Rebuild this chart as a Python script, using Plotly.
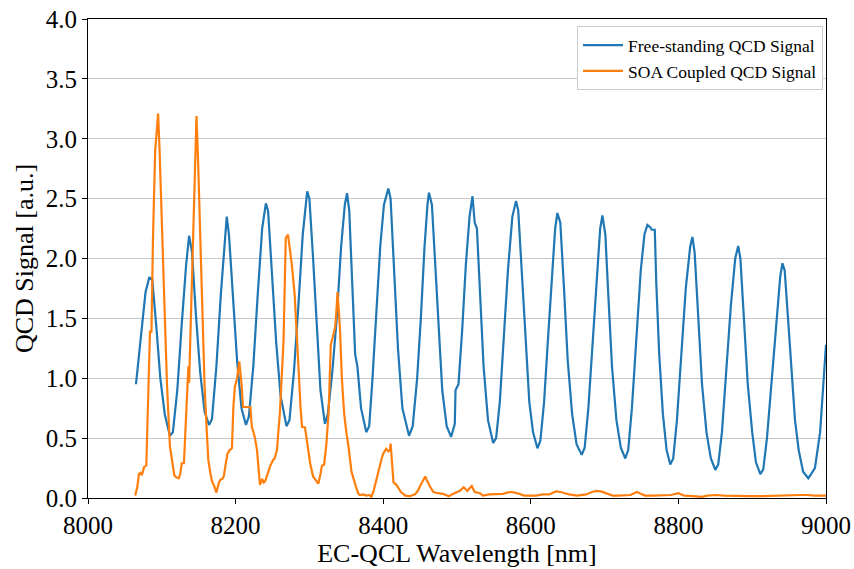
import plotly.graph_objects as go

# Free-standing QCD signal (blue)
blue_x = [8065, 8072, 8078, 8083, 8087, 8093, 8098, 8104, 8111, 8115, 8121, 8127, 8133, 8137, 8141, 8146,
          8152, 8158, 8164, 8168, 8174, 8180, 8185, 8188, 8191, 8196, 8202, 8208, 8214, 8218, 8224, 8230,
          8236, 8241, 8244, 8249, 8255, 8261, 8269, 8273, 8279, 8285, 8291, 8297, 8300, 8305, 8310, 8315,
          8321, 8325, 8331, 8337, 8343, 8348, 8351, 8354, 8358, 8362, 8365, 8370, 8377, 8381, 8385, 8390,
          8396, 8401, 8407, 8410, 8415, 8420, 8426, 8435, 8440, 8446, 8451, 8456, 8460, 8462, 8466, 8470,
          8475, 8480, 8486, 8492, 8497, 8498, 8502, 8507, 8512, 8517, 8521, 8524, 8527, 8531, 8536, 8542,
          8549, 8553, 8558, 8563, 8569, 8575, 8580, 8583, 8588, 8593, 8598, 8603, 8609, 8613, 8618, 8623,
          8629, 8633, 8636, 8640, 8645, 8650, 8656, 8662, 8669, 8673, 8678, 8684, 8690, 8694, 8697, 8701,
          8705, 8710, 8716, 8722, 8728, 8732, 8737, 8743, 8749, 8754, 8758, 8762, 8764, 8768, 8770, 8774,
          8779, 8784, 8789, 8793, 8798, 8804, 8810, 8816, 8819, 8822, 8827, 8832, 8838, 8844, 8850, 8854,
          8859, 8865, 8871, 8877, 8881, 8884, 8889, 8894, 8900, 8905, 8911, 8915, 8920, 8926, 8932, 8938,
          8941, 8944, 8948, 8953, 8958, 8963, 8969, 8976, 8980, 8985, 8992, 8996, 9000]
blue_y = [0.95, 1.40, 1.72, 1.84, 1.83, 1.40, 1.00, 0.70, 0.52, 0.55, 0.90, 1.45, 1.95, 2.19, 2.05, 1.55,
          1.05, 0.72, 0.61, 0.66, 1.10, 1.70, 2.15, 2.35, 2.20, 1.70, 1.15, 0.75, 0.61, 0.68, 1.10, 1.70,
          2.25, 2.46, 2.40, 1.90, 1.30, 0.85, 0.60, 0.65, 1.05, 1.60, 2.20, 2.56, 2.50, 2.00, 1.40, 0.90,
          0.62, 0.70, 1.05, 1.50, 2.10, 2.45, 2.545, 2.40, 1.80, 1.20, 1.10, 0.75, 0.55, 0.60, 0.95, 1.50,
          2.10, 2.45, 2.585, 2.50, 1.90, 1.25, 0.75, 0.52, 0.60, 1.00, 1.50, 2.10, 2.45, 2.55, 2.45, 2.00,
          1.40, 0.90, 0.60, 0.51, 0.62, 0.90, 0.95, 1.40, 1.95, 2.35, 2.52, 2.30, 2.25, 1.70, 1.10, 0.65,
          0.46, 0.50, 0.80, 1.30, 1.90, 2.35, 2.48, 2.40, 1.90, 1.30, 0.80, 0.55, 0.415, 0.48, 0.80, 1.30,
          1.90, 2.25, 2.38, 2.30, 1.75, 1.15, 0.70, 0.45, 0.36, 0.42, 0.75, 1.30, 1.90, 2.25, 2.36, 2.20,
          1.70, 1.10, 0.65, 0.42, 0.33, 0.40, 0.75, 1.30, 1.90, 2.20, 2.28, 2.26, 2.24, 2.24, 1.80, 1.20,
          0.70, 0.40, 0.28, 0.33, 0.65, 1.20, 1.75, 2.10, 2.18, 2.05, 1.50, 0.95, 0.55, 0.33, 0.235, 0.28,
          0.55, 1.05, 1.60, 2.00, 2.105, 2.00, 1.50, 0.95, 0.55, 0.30, 0.20, 0.24, 0.50, 0.95, 1.45, 1.85,
          1.96, 1.90, 1.55, 1.05, 0.65, 0.40, 0.22, 0.165, 0.20, 0.25, 0.55, 0.90, 1.28]

# SOA coupled QCD signal (orange)
orange_x = [8064, 8067, 8069, 8071, 8073, 8076, 8079, 8081, 8082, 8084, 8086, 8088, 8091, 8093, 8095, 8097,
            8099, 8101, 8104, 8107, 8111, 8114, 8117, 8120, 8123, 8125, 8127, 8130, 8132, 8135, 8136, 8137,
            8139, 8141, 8143, 8145, 8147, 8149, 8151, 8153, 8156, 8158, 8161, 8163, 8166, 8168, 8171, 8174,
            8177, 8179, 8182, 8184, 8187, 8189, 8192, 8195, 8197, 8199, 8202, 8205, 8208, 8210, 8215, 8220,
            8222, 8226, 8229, 8231, 8233, 8236, 8238, 8240, 8244, 8247, 8251, 8253, 8256, 8258, 8260, 8262,
            8265, 8267, 8268, 8271, 8273, 8276, 8280, 8283, 8286, 8288, 8290, 8294, 8297, 8301, 8305, 8308,
            8312, 8315, 8317, 8320, 8323, 8326, 8329, 8332, 8335, 8337, 8338, 8340, 8341.5, 8344, 8347, 8350,
            8353, 8357, 8360, 8363, 8366, 8368, 8373, 8377, 8381, 8384, 8387, 8390, 8393, 8395, 8398, 8400,
            8404, 8407, 8409, 8410, 8412, 8414, 8418, 8421, 8424, 8430, 8436, 8443, 8447, 8450, 8454, 8457,
            8459, 8461, 8463, 8468, 8474, 8481, 8489, 8493, 8497, 8504, 8509, 8514, 8520, 8524, 8531, 8535,
            8544, 8553, 8562, 8568, 8573, 8578, 8582, 8591, 8600, 8607, 8616, 8625, 8634, 8641, 8646, 8652,
            8663, 8675, 8683, 8689, 8695, 8700, 8705, 8711, 8718, 8725, 8735, 8740, 8744, 8749, 8755, 8765,
            8779, 8790, 8796, 8800, 8804, 8808, 8820, 8832, 8839, 8850, 8862, 8878, 8895, 8914, 8930, 8950,
            8965, 8974, 8985, 9000]
orange_y = [0.02, 0.10, 0.20, 0.21, 0.19, 0.26, 0.27, 0.70, 1.04, 1.39, 1.39, 2.15, 2.90, 3.10, 3.21, 2.90,
            2.50, 2.15, 1.49, 0.95, 0.43, 0.30, 0.19, 0.17, 0.165, 0.20, 0.29, 0.29, 0.60, 1.08, 1.10, 0.96,
            1.40, 1.90, 2.30, 2.90, 3.19, 2.85, 2.45, 2.10, 1.50, 0.93, 0.55, 0.32, 0.20, 0.14, 0.10, 0.045,
            0.12, 0.15, 0.16, 0.18, 0.30, 0.37, 0.40, 0.415, 0.76, 0.93, 1.00, 1.14, 0.96, 0.76, 0.76, 0.76,
            0.595, 0.51, 0.40, 0.26, 0.11, 0.16, 0.13, 0.14, 0.22, 0.27, 0.32, 0.33, 0.40, 0.55, 0.71, 0.95,
            1.32, 1.90, 2.17, 2.20, 2.10, 1.96, 1.70, 1.40, 1.00, 0.75, 0.595, 0.59, 0.45, 0.29, 0.18, 0.15,
            0.12, 0.20, 0.27, 0.28, 0.45, 0.71, 1.28, 1.35, 1.43, 1.60, 1.72, 1.55, 1.40, 1.00, 0.71, 0.55,
            0.43, 0.22, 0.15, 0.095, 0.04, 0.025, 0.03, 0.02, 0.025, 0.01, 0.06, 0.14, 0.22, 0.275, 0.33, 0.37,
            0.41, 0.39, 0.40, 0.455, 0.25, 0.13, 0.11, 0.08, 0.05, 0.02, 0.015, 0.03, 0.06, 0.10, 0.15, 0.18,
            0.15, 0.12, 0.10, 0.05, 0.04, 0.035, 0.015, 0.03, 0.04, 0.06, 0.09, 0.06, 0.10, 0.05, 0.04, 0.02,
            0.03, 0.03, 0.035, 0.045, 0.05, 0.045, 0.04, 0.02, 0.02, 0.02, 0.03, 0.03, 0.055, 0.05, 0.04, 0.03,
            0.02, 0.03, 0.05, 0.06, 0.055, 0.045, 0.03, 0.02, 0.02, 0.02, 0.025, 0.04, 0.05, 0.035, 0.02, 0.02,
            0.02, 0.025, 0.035, 0.04, 0.03, 0.02, 0.015, 0.01, 0.02, 0.025, 0.02, 0.015, 0.015, 0.015, 0.02, 0.02,
            0.025, 0.025, 0.02, 0.02]

x_ticks = [8000, 8200, 8400, 8600, 8800, 9000]
y_ticks = [0.0, 0.5, 1.0, 1.5, 2.0, 2.5, 3.0, 3.5, 4.0]

FONT = "Liberation Serif"

fig = go.Figure()
fig.add_trace(go.Scatter(x=blue_x, y=blue_y, mode="lines", name="Free-standing QCD Signal",
                         line=dict(color="#1f77b4", width=2.2)))
fig.add_trace(go.Scatter(x=orange_x, y=orange_y, mode="lines", name="SOA Coupled QCD Signal",
                         line=dict(color="#ff7f0e", width=2.2)))

fig.update_layout(
    width=854, height=569,
    margin=dict(l=88, r=28, t=19, b=71),
    paper_bgcolor="white", plot_bgcolor="white",
    font=dict(family=FONT, color="black", size=25),
    legend=dict(x=0.996, y=0.985, xanchor="right", yanchor="top",
                bgcolor="white", bordercolor="#cccccc", borderwidth=1,
                itemwidth=40,
                font=dict(family=FONT, size=17.5), tracegroupgap=0),
    showlegend=True,
)
fig.update_xaxes(range=[8000, 9000], tickvals=x_ticks, ticktext=[str(v) for v in x_ticks],
                 automargin=False,
                 showgrid=False, zeroline=False, showline=True, linecolor="black", linewidth=1,
                 mirror=True, ticks="outside", ticklen=5, tickwidth=1, tickcolor="black",
                 tickfont=dict(size=25, family=FONT),
                 title=dict(text="EC-QCL Wavelength [nm]", font=dict(size=26, family=FONT), standoff=0))
fig.update_yaxes(range=[0, 4], tickvals=y_ticks, ticktext=[f"{v:.1f}" for v in y_ticks],
                 automargin=False,
                 showgrid=True, gridcolor="#c8c8c8", gridwidth=1, zeroline=False,
                 showline=True, linecolor="black", linewidth=1, mirror=True,
                 ticks="outside", ticklen=5, tickwidth=1, tickcolor="black",
                 tickfont=dict(size=25, family=FONT),
                 title=dict(text="QCD Signal [a.u.]", font=dict(size=26, family=FONT), standoff=4))

fig.write_html("out.html")
